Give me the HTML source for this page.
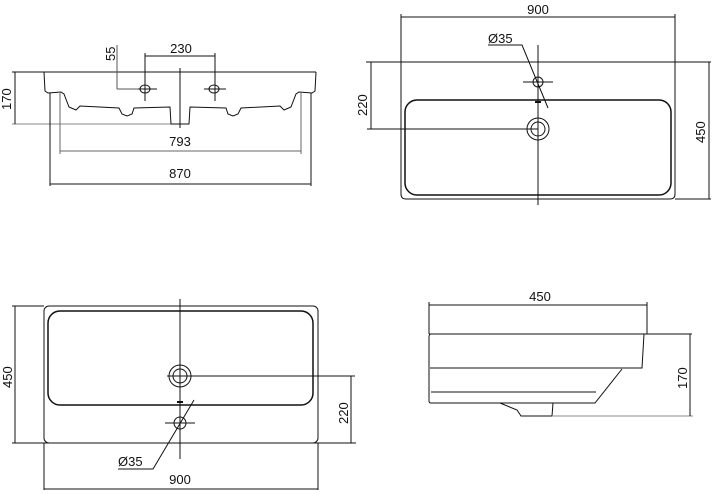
<!DOCTYPE html>
<html><head><meta charset="utf-8"><style>
html,body{margin:0;padding:0;background:#fff;width:712px;height:494px;overflow:hidden}
svg{display:block}
text{font-family:"Liberation Sans",sans-serif;font-size:13px;fill:#111}
</style></head><body>
<svg width="712" height="494" viewBox="0 0 712 494" xmlns="http://www.w3.org/2000/svg">
<g stroke="#111" stroke-width="1" fill="none">
<!-- TOP LEFT: front profile -->
<line x1="12" y1="72" x2="316" y2="72"/>
<line x1="12" y1="124" x2="180" y2="124" stroke="#888"/>
<line x1="15" y1="72" x2="15" y2="124"/>
<path d="M44,72 L45,91 L48,93 L61,92 L64,94 L69,107 L76,110 L80,106 L119,108 L122,114 L127,116 L132,114 L134,108 L170,107 L171,124 L189,124 L190,107 L226,108 L228,114 L233,116 L238,114 L241,108 L280,106 L284,110 L291,107 L296,94 L299,92 L312,93 L315,91 L316,72"/>
<line x1="180" y1="68" x2="180" y2="128"/>
<line x1="117" y1="45" x2="117" y2="89" stroke="#555"/>
<line x1="117" y1="89" x2="152" y2="89" stroke="#555"/>
<line x1="145" y1="53" x2="145" y2="101"/>
<line x1="215" y1="53" x2="215" y2="101"/>
<line x1="145" y1="56" x2="215" y2="56"/>
<ellipse cx="145" cy="89" rx="5" ry="4"/>
<ellipse cx="214" cy="89" rx="5" ry="4"/>
<line x1="138" y1="89" x2="157" y2="89"/>
<line x1="204" y1="89" x2="226" y2="89"/>
<line x1="60" y1="93" x2="60" y2="154" stroke="#666"/>
<line x1="301" y1="93" x2="301" y2="154" stroke="#666"/>
<line x1="60" y1="151" x2="301" y2="151" stroke="#666"/>
<line x1="50" y1="93" x2="50" y2="186"/>
<line x1="311" y1="93" x2="311" y2="186"/>
<line x1="50" y1="184" x2="311" y2="184"/>

<!-- TOP RIGHT: plan -->
<line x1="366" y1="62" x2="711" y2="62"/>
<path d="M401,14 V194 Q401,199 406,199 H670 Q675,199 675,194 V14"/>
<line x1="401" y1="17" x2="675" y2="17"/>
<rect x="405" y="100" width="266" height="95" rx="12" stroke-width="1.5"/>
<line x1="675" y1="199" x2="711" y2="199"/>
<line x1="709" y1="62" x2="709" y2="199"/>
<line x1="371" y1="62" x2="371" y2="129"/>
<line x1="367" y1="129" x2="538" y2="129"/>
<line x1="538" y1="45" x2="538" y2="205"/>
<circle cx="538" cy="129" r="11"/>
<circle cx="538" cy="129" r="7"/>
<circle cx="538" cy="82" r="5"/>
<line x1="523" y1="82" x2="553" y2="82"/>
<polyline points="488,45 522,45 548,108"/>
<line x1="535" y1="102" x2="541" y2="102" stroke-width="2"/>

<!-- BOTTOM LEFT: plan -->
<line x1="12" y1="306" x2="44" y2="306"/>
<rect x="44" y="306" width="274" height="137" rx="5"/>
<rect x="48" y="311" width="265" height="94" rx="12" stroke-width="1.5"/>
<line x1="12" y1="443" x2="356" y2="443"/>
<line x1="15" y1="306" x2="15" y2="443"/>
<line x1="180" y1="299" x2="180" y2="459"/>
<circle cx="180" cy="376" r="11"/>
<circle cx="180" cy="376" r="7"/>
<line x1="167" y1="376" x2="355" y2="376"/>
<line x1="351" y1="376" x2="351" y2="443"/>
<circle cx="180" cy="423" r="6"/>
<line x1="165" y1="423" x2="195" y2="423"/>
<polyline points="118,469 153,469 194,400"/>
<line x1="44" y1="443" x2="44" y2="490"/>
<line x1="318" y1="443" x2="318" y2="490"/>
<line x1="44" y1="489" x2="318" y2="489"/>
<line x1="177" y1="402" x2="183" y2="402" stroke-width="2"/>

<!-- BOTTOM RIGHT: side -->
<line x1="429" y1="302" x2="429" y2="334"/>
<line x1="647" y1="302" x2="647" y2="334"/>
<line x1="429" y1="305" x2="647" y2="305"/>
<line x1="429" y1="334" x2="692" y2="334"/>
<path d="M431,334 Q429,334 429,337 V401 Q429,403 431,403 H595 L622,369 M644,334 L642,368 H430"/>
<line x1="431" y1="392" x2="596" y2="392"/>
<path d="M500,403 L517,410 L521,416 L552,416 L553,403"/>
<line x1="552" y1="416" x2="693" y2="416" stroke="#888"/>
<line x1="690" y1="334" x2="690" y2="416"/>
</g>
<text x="181" y="53" text-anchor="middle">230</text>
<text transform="translate(115,61) rotate(-90)">55</text>
<text transform="translate(11,110) rotate(-90)">170</text>
<text x="180" y="146" text-anchor="middle">793</text>
<text x="180" y="178" text-anchor="middle">870</text>
<text x="538" y="14" text-anchor="middle">900</text>
<text x="488" y="43">Ø35</text>
<text transform="translate(367,116) rotate(-90)">220</text>
<text transform="translate(705,143) rotate(-90)">450</text>
<text transform="translate(12,388) rotate(-90)">450</text>
<text transform="translate(348,424) rotate(-90)">220</text>
<text x="118" y="466">Ø35</text>
<text x="180" y="484" text-anchor="middle">900</text>
<text x="540" y="301" text-anchor="middle">450</text>
<text transform="translate(687,389) rotate(-90)">170</text>
</svg>
</body></html>
